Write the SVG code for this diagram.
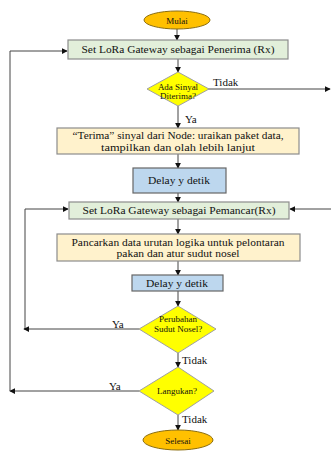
<svg xmlns="http://www.w3.org/2000/svg" width="331" height="451" viewBox="0 0 331 451">
<style>
text{font-family:"Liberation Serif","Times New Roman",serif;fill:#111}
.t{font-size:10.5px;text-anchor:middle}
.s{font-size:9px;text-anchor:middle}
.l{font-size:11px}
.term{fill:#FFC000;stroke:#8a6d10;stroke-width:1}
.grn{fill:#E2EFDA;stroke:#8c8c8c;stroke-width:1.2}
.pch{fill:#FFF2CC;stroke:#8c8c8c;stroke-width:1.2}
.blu{fill:#BDD7EE;stroke:#666;stroke-width:1.2}
.dia{fill:#FFFF00;stroke:#a0a0a0;stroke-width:1}
.c{fill:none;stroke:#444;stroke-width:1;marker-end:url(#a)}
.n{fill:none;stroke:#444;stroke-width:1}
</style>
<defs>
<marker id="a" viewBox="0 0 8 8" refX="7" refY="4" markerWidth="6" markerHeight="6" markerUnits="userSpaceOnUse" orient="auto">
<path d="M0,0 L8,4 L0,8 z" fill="#111"/>
</marker>
</defs>
<g id="connectors">
<path class="c" d="M177,29 V40"/>
<path class="c" d="M178,59 V72"/>
<path class="c" d="M208,89 H330"/>
<path class="c" d="M178,106 V128"/>
<path class="c" d="M178,154 V168"/>
<path class="c" d="M178,193 V202"/>
<path class="c" d="M331,209 H290"/>
<path class="c" d="M25,329 V209 H68"/>
<path class="c" d="M178,219 V234"/>
<path class="c" d="M178,261 V275"/>
<path class="c" d="M178,291 V306"/>
<path class="c" d="M139,329 H24"/>
<path class="c" d="M178,353 V367"/>
<path class="c" d="M139,391 H10"/>
<path class="c" d="M10,391 V51 H67"/>
<path class="c" d="M178,415 V430"/>
<text class="l" x="213" y="86">Tidak</text>
<text class="l" x="185" y="123">Ya</text>
<text class="l" x="112" y="328">Ya</text>
<text class="l" x="182" y="364">Tidak</text>
<text class="l" x="109" y="390">Ya</text>
<text class="l" x="182" y="423">Tidak</text>
</g>
<g id="mulai">
<ellipse class="term" cx="177" cy="20" rx="33" ry="9"/>
<text class="s" x="177" y="23.5" font-size="9.5">Mulai</text>
</g>
<g id="set-rx">
<rect class="grn" x="68" y="40" width="220" height="19"/>
<text class="t" x="178" y="53" textLength="193" lengthAdjust="spacingAndGlyphs">Set LoRa Gateway sebagai Penerima (Rx)</text>
</g>
<g id="ada-sinyal">
<polygon class="dia" points="178,72 209,89 178,106 147,89"/>
<text class="s" x="178" y="90" font-size="8.5">Ada Sinyal</text>
<text class="s" x="178" y="99" font-size="8.5">Diterima?</text>
</g>
<g id="terima">
<rect class="pch" x="57" y="128" width="242" height="26"/>
<text class="t" x="178" y="139" textLength="211" lengthAdjust="spacingAndGlyphs">“Terima” sinyal dari Node: uraikan paket data,</text>
<text class="t" x="178" y="150.5" textLength="154" lengthAdjust="spacingAndGlyphs">tampilkan dan olah lebih lanjut</text>
</g>
<g id="delay1">
<rect class="blu" x="133" y="168" width="93" height="25"/>
<text class="t" x="179" y="184" textLength="62" lengthAdjust="spacingAndGlyphs">Delay y detik</text>
</g>
<g id="set-tx">
<rect class="grn" x="69" y="202" width="220" height="17"/>
<text class="t" x="179" y="213.5" textLength="193" lengthAdjust="spacingAndGlyphs">Set LoRa Gateway sebagai Pemancar(Rx)</text>
</g>
<g id="pancarkan">
<rect class="pch" x="57" y="234" width="243" height="27"/>
<text class="t" x="178" y="246" textLength="213" lengthAdjust="spacingAndGlyphs">Pancarkan data urutan logika untuk pelontaran</text>
<text class="t" x="178" y="256.5" textLength="123" lengthAdjust="spacingAndGlyphs">pakan dan atur sudut nosel</text>
</g>
<g id="delay2">
<rect class="blu" x="132" y="275" width="91" height="16"/>
<text class="t" x="177" y="286.5" textLength="62" lengthAdjust="spacingAndGlyphs">Delay y detik</text>
</g>
<g id="perubahan">
<polygon class="dia" points="178,306 216,329 178,353 139,329"/>
<text class="s" x="178" y="322" font-size="6.5">Perubahan</text>
<text class="s" x="178" y="332" font-size="9">Sudut Nosel?</text>
</g>
<g id="lanjutkan">
<polygon class="dia" points="178,367 214,391 178,415 139,391"/>
<text class="s" x="177" y="394" font-size="8.8">Langukan?</text>
</g>
<g id="selesai">
<ellipse class="term" cx="178" cy="440" rx="35" ry="10"/>
<text class="s" x="178" y="444" font-size="10">Selesai</text>
</g>
</svg>
